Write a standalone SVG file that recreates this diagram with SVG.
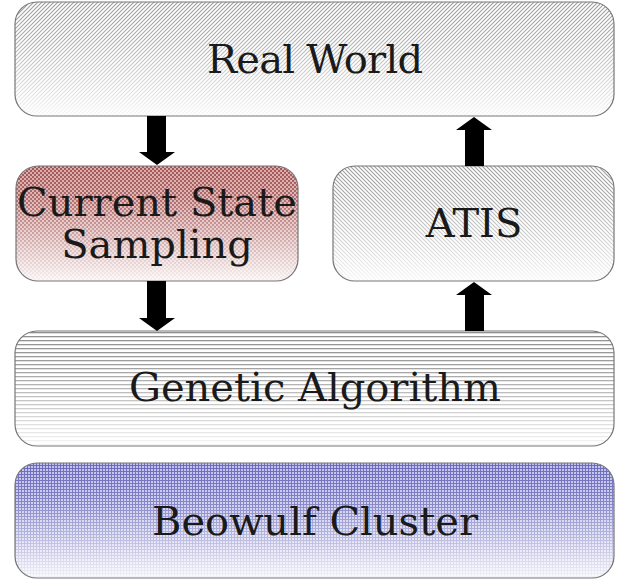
<svg xmlns="http://www.w3.org/2000/svg" width="628" height="581" viewBox="0 0 628 581">
<defs>
<pattern id="diagR" width="4" height="4" patternUnits="userSpaceOnUse">
<rect width="4" height="4" fill="#fff"/>
<path d="M-1,1 L1,-1 M0,4 L4,0 M3,5 L5,3" stroke="#9c9c9c" stroke-width="1.1"/>
</pattern>
<pattern id="diagL" width="4" height="4" patternUnits="userSpaceOnUse">
<rect width="4" height="4" fill="#fff"/>
<path d="M-1,3 L1,5 M0,0 L4,4 M3,-1 L5,1" stroke="#9c9c9c" stroke-width="1.1"/>
</pattern>
<pattern id="checks" width="4" height="4" patternUnits="userSpaceOnUse">
<rect width="4" height="4" fill="#dcaaaa"/>
<rect width="2" height="2" fill="#a05555"/>
<rect x="2" y="2" width="2" height="2" fill="#a05555"/>
</pattern>
<pattern id="hstripes" width="4" height="4" patternUnits="userSpaceOnUse">
<rect width="4" height="4" fill="#fff"/>
<rect width="4" height="1.3" fill="#8f8f8f"/>
</pattern>
<pattern id="grid" width="3" height="3" patternUnits="userSpaceOnUse">
<rect width="3" height="3" fill="#c4c4ec"/>
<rect width="1" height="3" fill="#6a6abc"/>
<rect width="3" height="1" fill="#6a6abc"/>
</pattern>
<linearGradient id="fade" x1="0" y1="0" x2="0" y2="1">
<stop offset="0" stop-color="#fff" stop-opacity="0"/>
<stop offset="0.3" stop-color="#fff" stop-opacity="0.15"/>
<stop offset="1" stop-color="#fff" stop-opacity="0.92"/>
</linearGradient>
</defs>
<style>
.edge{fill:none;stroke:#777;stroke-width:1.2}
.lbl{font-family:"DejaVu Serif","Liberation Serif",serif;font-size:40px;fill:#1a1a1a;text-anchor:middle}
.arrow{fill:#000}
</style>

<g id="real-world">
<rect x="15" y="2" width="599" height="114" rx="22" fill="url(#diagR)"/>
<rect x="15" y="2" width="599" height="114" rx="22" fill="url(#fade)"/>
<rect x="15" y="2" width="599" height="114" rx="22" class="edge"/>
<text class="lbl" x="315" y="73" textLength="216">Real World</text>
</g>

<g id="current-state-sampling">
<rect x="16" y="166" width="282" height="115" rx="22" fill="url(#checks)"/>
<rect x="16" y="166" width="282" height="115" rx="22" fill="url(#fade)"/>
<rect x="16" y="166" width="282" height="115" rx="22" class="edge"/>
<text class="lbl" x="157" y="216">Current State</text>
<text class="lbl" x="157" y="258">Sampling</text>
</g>

<g id="atis">
<rect x="333" y="166" width="281" height="115" rx="22" fill="url(#diagL)"/>
<rect x="333" y="166" width="281" height="115" rx="22" fill="url(#fade)"/>
<rect x="333" y="166" width="281" height="115" rx="22" class="edge"/>
<text class="lbl" x="474" y="237">ATIS</text>
</g>

<g id="genetic-algorithm">
<rect x="15" y="331" width="599" height="115" rx="22" fill="url(#hstripes)"/>
<rect x="15" y="331" width="599" height="115" rx="22" fill="url(#fade)"/>
<rect x="15" y="331" width="599" height="115" rx="22" class="edge"/>
<text class="lbl" x="315" y="401">Genetic Algorithm</text>
</g>

<g id="beowulf-cluster">
<rect x="15" y="463" width="599" height="115" rx="22" fill="url(#grid)"/>
<rect x="15" y="463" width="599" height="115" rx="22" fill="url(#fade)"/>
<rect x="15" y="463" width="599" height="115" rx="22" class="edge"/>
<text class="lbl" x="315" y="535">Beowulf Cluster</text>
</g>

<g id="connectors">
<polygon class="arrow" points="147,116 166,116 166,152 175,152 157,165 139,152 147,152"/>
<polygon class="arrow" points="147,281 166,281 166,318 175,318 157,331 139,318 147,318"/>
<polygon class="arrow" points="465,166 484,166 484,130 492,130 474,117 456,130 465,130"/>
<polygon class="arrow" points="465,331 484,331 484,295 492,295 474,282 456,295 465,295"/>
</g>
</svg>
